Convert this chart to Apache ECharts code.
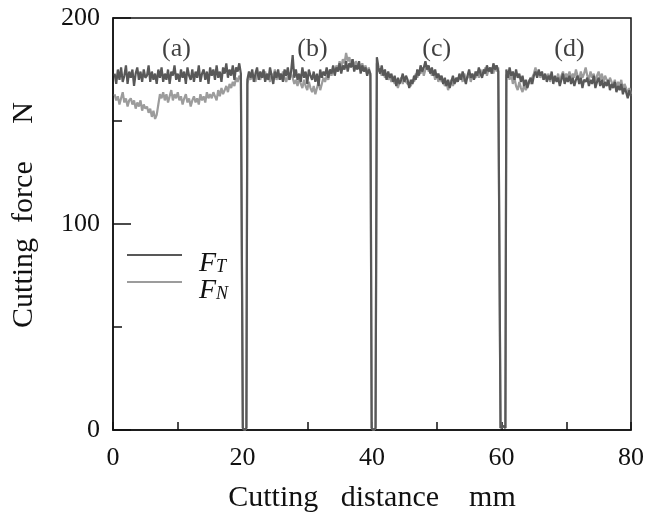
<!DOCTYPE html>
<html>
<head>
<meta charset="utf-8">
<script src="https://cdn.jsdelivr.net/npm/echarts@6/dist/echarts.min.js"></script>
<style>html,body{margin:0;padding:0;background:#fff;}#c{width:647px;height:518px;}</style>
</head>
<body>
<div id="c"></div>
<script>
// ---- data (cutting distance mm, cutting force N) ----
const step = 0.25;                       // sampling interval of the record, mm
const segStart = [0.25, 20.75, 40.75, 60.75];  // first sample of each cut (a)-(d)
const dipDown = [20.05, 39.95, 59.85];   // tool leaves workpiece
const dipMid  = [20.35, 40.25, 60.2];
const dipUp   = [20.6, 40.55, 60.6];     // tool re-enters
const dipMin  = [0, 0, 2];

const xTicks = [0, 20, 40, 60, 80];
const yTicks = [0, 100, 200];
const cutLabels = ['(a)', '(b)', '(c)', '(d)'];
const cutLabelX = [9.8, 30.8, 50, 70.5];
const cutLabelY = [185, 185, 185, 185];

const ftA = [173,168,175,170,176,169,172,177,168,174,171,175,167,173,176,170,174,169,175,171,
172,177,169,174,170,173,168,175,171,176,169,173,170,175,168,174,172,177,170,173,
169,175,171,174,168,176,172,170,175,169,174,171,177,169,173,175,170,174,168,176,
172,175,170,177,171,174,169,176,173,178,171,175,172,177,170,176,174,178,173];
const fnA = [163,160,162,158,161,164,159,161,157,160,
161,158,160,156,159,157,160,155,158,156,
157,154,156,152,155,151,153,158,163,161,
164,160,163,159,162,165,160,163,161,164,
160,162,158,161,163,159,161,157,160,162,
159,161,158,163,160,162,159,164,161,163,
161,164,162,160,165,162,166,163,165,167,
164,168,166,169,167,171,169,172,170];

const ftB = [170,174,171,175,169,173,176,170,174,171,
175,169,173,170,176,172,168,174,171,175,
170,173,169,175,172,176,170,174,182,171,
175,170,173,169,176,171,174,168,175,172,
170,174,169,173,167,175,171,174,172,176,
171,175,173,177,172,176,174,178,173,177,
175,179,174,178,176,180,174,177,175,179,
173,177,174,176,172,175,173];
const fnB = [168,172,170,173,171,169,174,172,170,173,
171,174,170,172,169,173,171,175,170,172,
173,170,174,171,169,172,170,173,171,168,
170,167,171,168,166,170,167,165,169,166,
164,167,163,166,169,165,168,171,169,172,
170,174,172,176,173,177,175,179,176,180,
178,183,179,181,177,180,176,179,177,178,
175,178,174,177,173,176,172];

const ftC = [181,176,173,177,172,175,170,174,171,173,
169,172,167,171,168,170,173,169,172,170,
166,170,168,172,170,175,172,177,174,176,
179,175,177,173,176,172,175,171,173,170,
172,168,171,167,170,166,169,172,168,171,
169,173,170,174,171,168,172,175,171,173,
170,174,172,176,173,171,175,173,177,174,
176,173,178,175,177,174];
const fnC = [178,174,175,172,174,171,173,170,172,169,
171,168,170,166,169,171,168,171,169,168,
168,167,170,169,173,171,174,173,176,172,
175,177,174,175,172,174,170,173,169,172,
169,170,167,169,165,168,170,167,170,169,
171,170,172,169,173,170,171,173,169,172,
172,171,174,171,175,172,173,176,172,175,
174,176,173,177,174,176];

const ftD = [175,171,176,172,174,170,175,171,173,169,
172,167,170,166,169,171,168,172,174,171,
175,172,174,170,173,169,172,170,174,168,
172,169,171,167,170,173,168,171,169,172,
168,171,167,170,172,168,171,166,170,169,
171,167,170,168,172,166,169,171,167,170,
166,169,167,170,165,168,166,169,164,167,
165,168,163,166,164,161,165,162];
const fnD = [172,174,170,173,168,171,167,165,169,166,
164,168,165,167,170,168,171,173,176,172,
174,171,173,170,172,171,173,169,172,170,
171,170,173,169,172,174,170,173,171,174,
170,173,171,175,172,170,174,171,173,176,
172,170,174,171,173,169,172,174,170,173,
169,172,170,168,171,169,167,170,166,169,
167,170,165,168,166,163,166,163];

function build(segs) {
  const pts = [];
  segs.forEach((arr, k) => {
    arr.forEach((v, i) => pts.push([segStart[k] + i * step, v]));
    if (k < dipDown.length) {
      pts.push([dipDown[k], 1], [dipMid[k], dipMin[k]], [dipUp[k], 1]);
    }
  });
  return pts;
}
const ftData = build([ftA, ftB, ftC, ftD]);
const fnData = build([fnA, fnB, fnC, fnD]);

const ink = '#111';
const serif = '"Liberation Serif", "DejaVu Serif", serif';

const legendRich = {
  f: {fontFamily: serif, fontStyle: 'italic', fontSize: 28, color: ink, lineHeight: 20, verticalAlign: 'top'},
  s: {fontFamily: serif, fontStyle: 'italic', fontSize: 18, color: ink, lineHeight: 34, verticalAlign: 'middle'}
};
function legendFor(name, top) {
  return {
    orient: 'vertical', left: 127, top: top, padding: 0, itemWidth: 55, itemHeight: 2,
    icon: 'rect', data: [name],
    formatter: n => n === 'FT' ? '{f|F}{s|T}' : '{f|F}{s|N}',
    textStyle: {padding: [24, 0, 0, 12], rich: legendRich}
  };
}

const chart = echarts.init(document.getElementById('c'), null, {renderer: 'canvas'});
chart.setOption({
  backgroundColor: '#fff',
  animation: false,
  grid: {left: 113, right: 14, top: 18, bottom: 85, show: true, borderColor: ink, borderWidth: 1.5, backgroundColor: 'transparent'},
  xAxis: {
    type: 'value', min: 0, max: 80, interval: 10,
    name: 'Cutting   distance    mm', nameLocation: 'middle', nameGap: 53,
    nameTextStyle: {fontFamily: serif, fontSize: 30, color: ink},
    axisLine: {show: true, lineStyle: {color: ink, width: 1.5}},
    axisTick: {show: true, inside: true, length: 8, lineStyle: {color: ink, width: 1.5}},
    axisLabel: {fontFamily: serif, fontSize: 26, color: ink, margin: 15,
      formatter: v => xTicks.indexOf(v) >= 0 ? String(v) : ''},
    splitLine: {show: false}
  },
  yAxis: [{
    type: 'value', min: 0, max: 200, interval: 50,
    axisLine: {show: true, lineStyle: {color: ink, width: 1.5}},
    axisTick: {show: true, inside: true, length: 9, lineStyle: {color: ink, width: 1.5}},
    axisLabel: {fontFamily: serif, fontSize: 26, color: ink, margin: 13, padding: [0, 0, 12, 0],
      formatter: v => yTicks.indexOf(v) >= 0 ? String(v) : ''},
    splitLine: {show: false}
  }, {
    type: 'value', min: 0, max: 200, interval: 100, position: 'left',
    axisLine: {show: false}, axisLabel: {show: false}, splitLine: {show: false},
    axisTick: {show: true, inside: true, length: 18, lineStyle: {color: ink, width: 1.5}}
  }],
  legend: [legendFor('FT', 250), legendFor('FN', 277)],
  graphic: [{
    type: 'text', x: 24, y: 215, rotation: Math.PI / 2,
    style: {text: 'Cutting  force     N', font: '30px "Liberation Serif", serif', fill: ink, align: 'center', verticalAlign: 'middle'}
  }],
  series: [{
    name: 'FN', type: 'line', data: fnData, showSymbol: false, symbol: 'none',
    lineStyle: {color: '#9c9c9c', width: 2.2}, itemStyle: {color: '#9c9c9c'}, z: 2
  }, {
    name: 'FT', type: 'line', data: ftData, showSymbol: false, symbol: 'none',
    lineStyle: {color: '#585858', width: 2.2}, itemStyle: {color: '#585858'}, z: 3
  }, {
    name: 'labels', type: 'scatter', symbolSize: 0, silent: true,
    data: cutLabelX.map((x, i) => [x, cutLabelY[i]]),
    label: {show: true, position: 'inside', formatter: p => cutLabels[p.dataIndex],
      fontFamily: serif, fontSize: 26, color: ink}
  }]
});
</script>
</body>
</html>
